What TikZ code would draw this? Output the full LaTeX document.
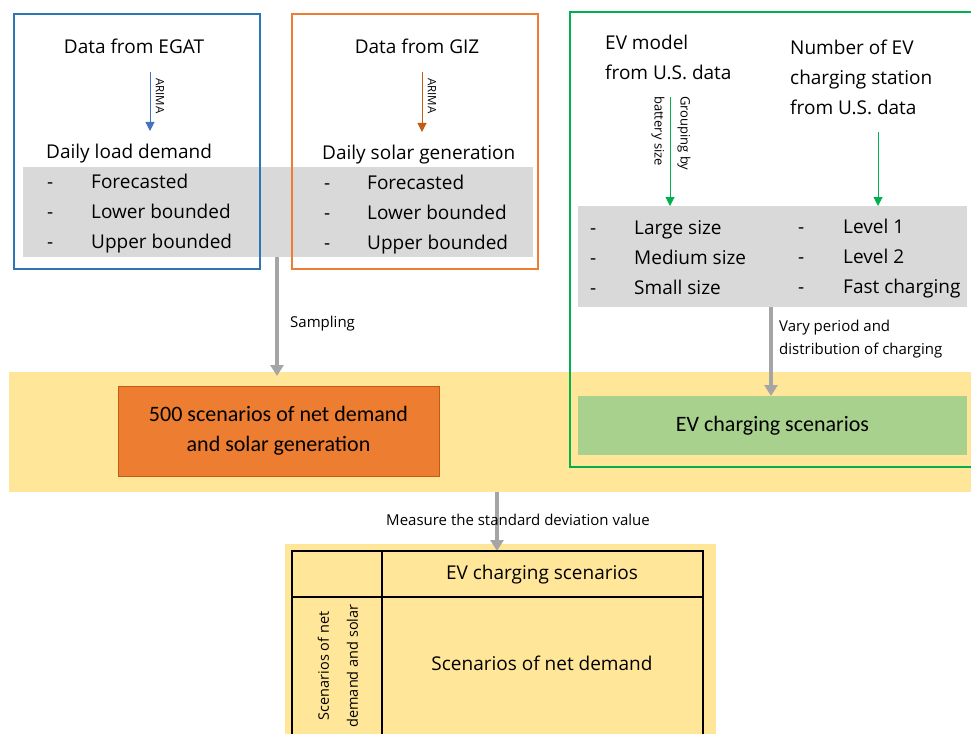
\documentclass[tikz,border=0pt]{standalone}
\usepackage{fontspec}
\setmainfont{Open Sans}
\newfontfamily\condfont{Carlito}
\usetikzlibrary{arrows.meta}
\definecolor{cblue}{HTML}{2E75B6}
\definecolor{corange}{HTML}{ED7D31}
\definecolor{cdorange}{HTML}{C55A11}
\definecolor{cgreen}{HTML}{00B050}
\definecolor{cgray}{HTML}{D9D9D9}
\definecolor{cyellow}{HTML}{FFE699}
\definecolor{clgreen}{HTML}{A9D18E}
\definecolor{carrow}{HTML}{A5A5A5}
\definecolor{carima}{HTML}{4472C4}
\tikzset{
  main/.style={inner sep=0pt, text height=1.25em, text depth=0em, font=\fontsize{19}{23}\selectfont},
  item/.style={main, anchor=west},
  small/.style={inner sep=0pt, font=\fontsize{15}{18}\selectfont},
  tiny/.style={inner sep=0pt, font=\fontsize{11.5}{13}\selectfont},
  frame/.style={line width=1.6pt},
  thinarrow/.style={line width=1pt, -{Triangle[length=9pt,width=9pt]}},
  grayarrow/.style={draw=carrow, line width=4pt, -{Triangle[length=11pt,width=13pt]}},
  tline/.style={line width=2pt, draw=black},
}
\begin{document}
\begin{tikzpicture}[x=1pt,y=-1pt]
\useasboundingbox (0,0) rectangle (971,733);
% background bands
\fill[cyellow] (9,372) rectangle (975,492);
\fill[cyellow] (285,544) rectangle (716,740);
\fill[cgray] (23,167) rectangle (533,257);
\fill[cgray] (578,206) rectangle (967,307);
% frames
\draw[frame, cblue] (14,14) rectangle (260,269);
\draw[frame, corange] (292,14) rectangle (538,269);
\draw[frame, cgreen] (570,12) rectangle (980,467);
% filled boxes
\node[draw=cdorange, line width=1pt, fill=corange, minimum width=321pt, minimum height=90pt, align=center,
  font=\condfont\fontsize{22}{30}\selectfont] (scen) at (278.5,431) {500 scenarios of net demand\\and solar generation};
\node[fill=clgreen, minimum width=389pt, minimum height=59pt, font=\condfont\fontsize{22}{26}\selectfont] (evs) at (772.5,425.5) {EV charging scenarios};
% column 1
\node[main] (egat) at (134,47) {Data from EGAT};
\coordinate (a1s) at (150,72);
\coordinate (a1e) at (150,131);
\draw[thinarrow, carima] (a1s) -- (a1e);
\node[tiny, rotate=-90] (arima1) at (160,96) {ARIMA};
\node[main, anchor=west] (dld) at (46,152) {Daily load demand};
\foreach \y/\t [count=\i] in {182/Forecasted,212/Lower bounded,242/Upper bounded}{
  \node[item] (ld\i) at (91,\y) {\t};
  \node[item] (ldd\i) at (47,\y) {-};
}
% column 2
\node[main] (giz) at (417,47) {Data from GIZ};
\coordinate (a2s) at (422,72);
\coordinate (a2e) at (422,132);
\draw[thinarrow, cdorange] (a2s) -- (a2e);
\node[tiny, rotate=-90] (arima2) at (432,96) {ARIMA};
\node[main, anchor=west] (dsg) at (322,153) {Daily solar generation};
\foreach \y/\t [count=\i] in {183/Forecasted,213/Lower bounded,243/Upper bounded}{
  \node[item] (sg\i) at (367,\y) {\t};
  \node[item] (sgd\i) at (324,\y) {-};
}
% column 3
\node[main, anchor=west] (evm1) at (605,43) {EV model};
\node[main, anchor=west] (evm2) at (605,73) {from U.S. data};
\coordinate (a3s) at (670,97);
\coordinate (a3e) at (670,206);
\draw[thinarrow, cgreen] (a3s) -- (a3e);
\node[inner sep=0pt, font=\fontsize{13}{15}\selectfont, rotate=-90, anchor=west] (grp1) at (684,96) {Grouping by};
\node[inner sep=0pt, font=\fontsize{13}{15}\selectfont, rotate=-90, anchor=west] (grp2) at (658,96) {battery size};
\node[main, anchor=west] (nev1) at (790,48) {Number of EV};
\node[main, anchor=west] (nev2) at (790,78) {charging station};
\node[main, anchor=west] (nev3) at (790,108) {from U.S. data};
\coordinate (a4s) at (878,132);
\coordinate (a4e) at (878,206);
\draw[thinarrow, cgreen] (a4s) -- (a4e);
\foreach \y/\t [count=\i] in {228/Large size,258/Medium size,288/Small size}{
  \node[item] (bs\i) at (634,\y) {\t};
  \node[item] (bsd\i) at (590,\y) {-};
}
\foreach \y/\t [count=\i] in {227/Level 1,257/Level 2,287/Fast charging}{
  \node[item] (lv\i) at (843,\y) {\t};
  \node[item] (lvd\i) at (798,\y) {-};
}
% gray arrows
\coordinate (g1s) at (277,257);
\coordinate (g1e) at (277,376);
\draw[grayarrow] (g1s) -- (g1e);
\node[small, anchor=west] (samp) at (290,324) {Sampling};
\coordinate (g2s) at (771,307);
\coordinate (g2e) at (771,396);
\draw[grayarrow] (g2s) -- (g2e);
\node[small, anchor=west, align=left, font=\fontsize{15}{23}\selectfont] (vary) at (779,339.5) {Vary period and\\distribution of charging};
\coordinate (g3s) at (497,492);
\coordinate (g3e) at (497,551);
\draw[grayarrow] (g3s) -- (g3e);
\node[small] (meas) at (518,520) {Measure the standard deviation value};
% table
\draw[tline] (292,551) rectangle (703,745);
\draw[tline] (382,551) -- (382,745);
\draw[tline] (292,597) -- (703,597);
\node[main] (th) at (542,573) {EV charging scenarios};
\node[main] (tb) at (542,664) {Scenarios of net demand};
\node[inner sep=0pt, rotate=90, align=center, font=\fontsize{14.5}{29}\selectfont] (tl) at (338,666) {Scenarios of net\\demand and solar};
\end{tikzpicture}
\end{document}
